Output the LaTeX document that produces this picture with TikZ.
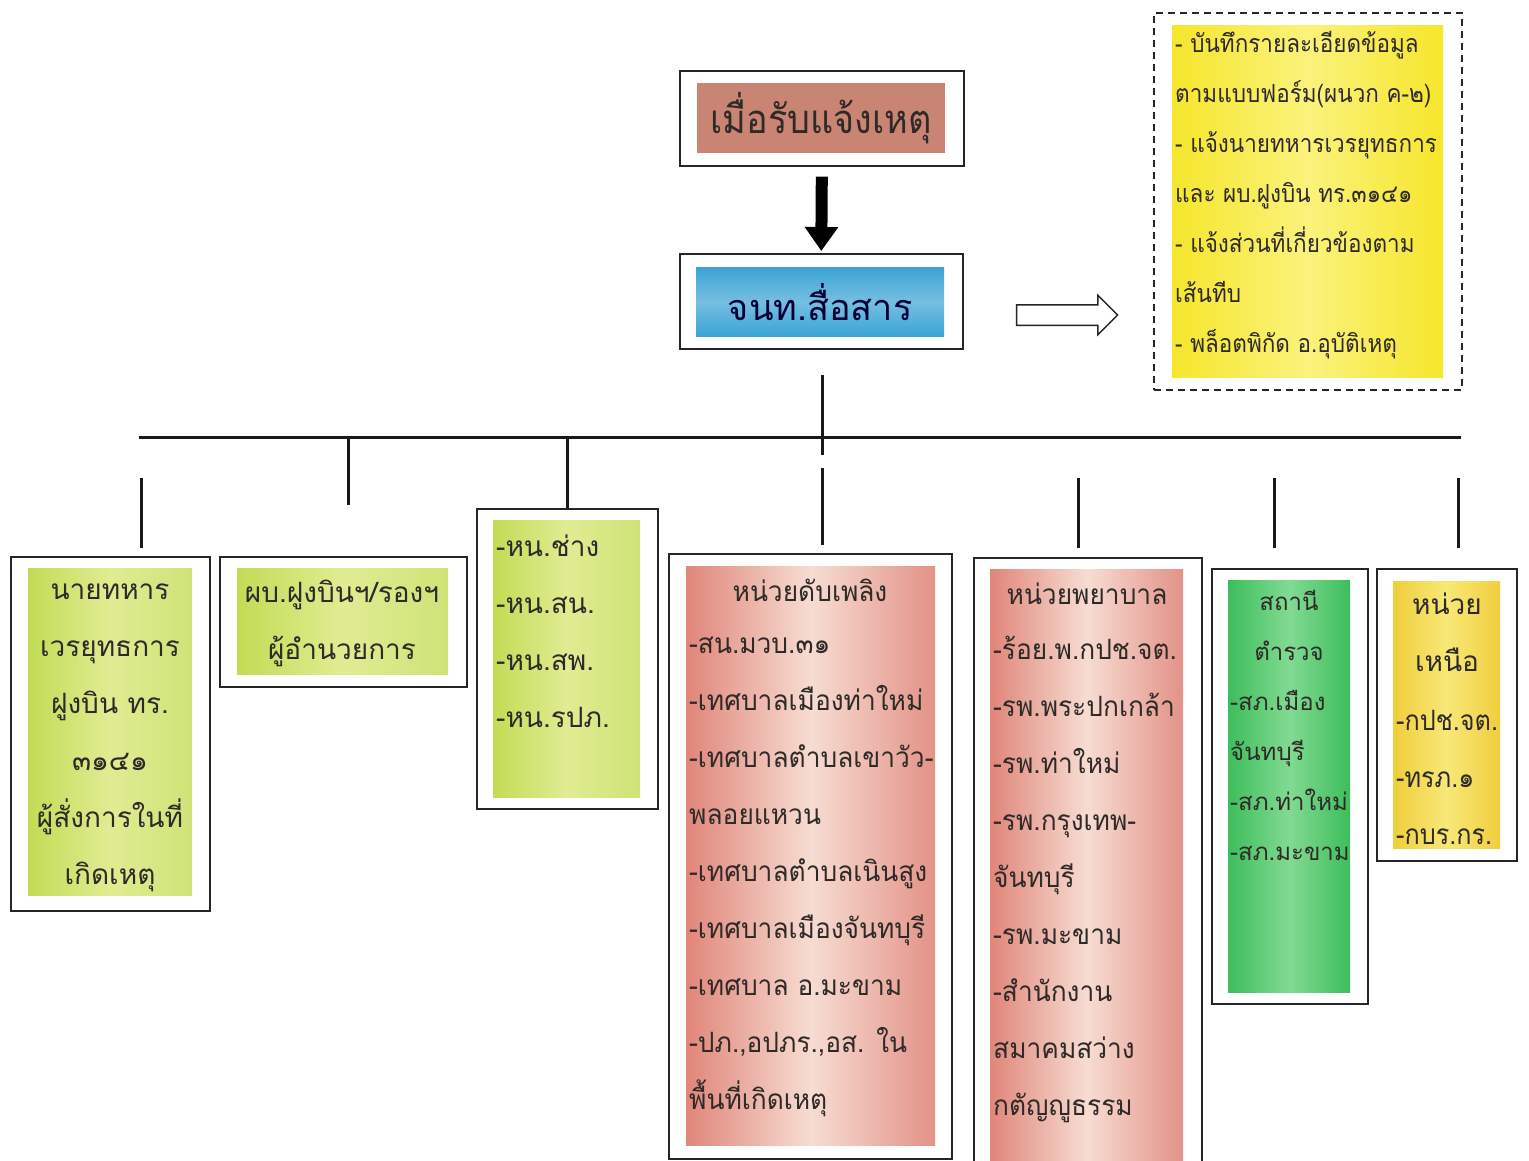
\documentclass[tikz,border=0pt]{standalone}
\usepackage{fontspec}
\newfontfamily\thai[Script=Thai]{Loma}
\newfontfamily\thaiN[Script=Thai,FakeStretch=0.9]{Loma}
\newfontfamily\thaiM[Script=Thai,FakeStretch=0.94]{Loma}
\usetikzlibrary{arrows.meta,shapes.arrows}
\definecolor{salmon}{HTML}{C98473}
\definecolor{bluebox}{HTML}{3BA3D5}
\definecolor{ygA}{HTML}{C2DC55}
\definecolor{ygB}{HTML}{E0EC92}
\definecolor{redA}{HTML}{E0867A}
\definecolor{redB}{HTML}{F7DCD2}
\definecolor{grA}{HTML}{3DBE5C}
\definecolor{grB}{HTML}{82DA92}
\definecolor{orA}{HTML}{F0CE3C}
\definecolor{orB}{HTML}{F8E878}
\definecolor{yeA}{HTML}{F6E62C}
\definecolor{yeB}{HTML}{FAF27C}
\definecolor{ink}{HTML}{2E2A28}
\tikzset{
  frame/.style={draw=black!85, line width=1.6pt, fill=white, anchor=north west, inner sep=0pt},
  fillbox/.style={anchor=north west, inner sep=0pt, draw=none},
  txt/.style={text=ink, inner sep=0pt, font=\thai\fontsize{28}{57}\selectfont},
  txtM/.style={text=ink, inner sep=0pt, font=\thaiM\fontsize{28}{57}\selectfont},
  smalltxt/.style={text=ink, inner sep=0pt, font=\thai\fontsize{24}{50}\selectfont},
  notetxt/.style={text=ink, inner sep=0pt, font=\thaiN\fontsize{25}{50}\selectfont},
  conn/.style={line width=3pt, black!90},
}
\begin{document}
\begin{tikzpicture}[x=1pt,y=-1pt]
\useasboundingbox[fill=white] (0,0) rectangle (1529,1160);

% top boxes
\node[frame, minimum width=284pt, minimum height=95pt] (t1) at (679,70) {};
\node[fillbox, minimum width=248pt, minimum height=70pt, fill=salmon] (t1f) at (697,83) {};
\node[text=ink, inner sep=0pt, font=\thaiN\fontsize{40}{50}\selectfont] (t1t) at (t1f.center) {เมื่อรับแจ้งเหตุ};

\node[frame, minimum width=283pt, minimum height=95pt] (t2) at (679,253) {};
\node[fillbox, minimum width=248pt, minimum height=69pt, top color=bluebox, bottom color=bluebox, middle color=bluebox!70!white] (t2f) at (696,267) {};
\node[text=black!80!blue, inner sep=0pt, font=\thai\fontsize{36}{50}\selectfont] (t2t) at (t2f.center) {จนท.สื่อสาร};

\draw[line width=12pt, -{Triangle[width=32pt,length=24pt]}] ([yshift=-10pt]t1.south) -- ([yshift=2pt]t2.north);

% hollow arrow
\node[single arrow, draw=black!85, line width=1.5pt, fill=white, minimum height=101pt, minimum width=38pt, single arrow head extend=9.5pt, inner sep=9.5pt] (harrow) at (1062,315) {};

% note box
\node[frame, dash pattern=on 7pt off 5pt, minimum width=308pt, minimum height=377pt] (note) at (1153,12) {};
\node[fillbox, minimum width=271pt, minimum height=352pt, left color=yeA, right color=yeA, middle color=yeB] (notef) at (1172,25) {};
\node[notetxt, align=left, anchor=west] (notet) at (1175,195) {- บันทึกรายละเอียดข้อมูล\\ตามแบบฟอร์ม(ผนวก ค-๒)\\- แจ้งนายทหารเวรยุทธการ\\และ ผบ.ฝูงบิน ทร.๓๑๔๑\\- แจ้งส่วนที่เกี่ยวข้องตาม\\เส้นทีบ\\- พล็อตพิกัด อ.อุบัติเหตุ};

% box 1
\node[frame, minimum width=199pt, minimum height=354pt] (b1) at (10,556) {};
\node[fillbox, minimum width=164pt, minimum height=327pt, left color=ygA, right color=ygA!80!white, middle color=ygB] (b1f) at (28,568) {};
\node[txt, align=center] (b1t) at (110,738) {นายทหาร\\เวรยุทธการ\\ฝูงบิน ทร.\\๓๑๔๑\\ผู้สั่งการในที่\\เกิดเหตุ};

% box 2
\node[frame, minimum width=247pt, minimum height=130pt] (b2) at (219,556) {};
\node[fillbox, minimum width=211pt, minimum height=106pt, left color=ygA, right color=ygA!80!white, middle color=ygB] (b2f) at (237,568) {};
\node[txt, align=center] (b2t) at (342,623) {ผบ.ฝูงบินฯ/รองฯ\\ผู้อำนวยการ};

% box 3
\node[frame, minimum width=181pt, minimum height=300pt] (b3) at (476,508) {};
\node[fillbox, minimum width=147pt, minimum height=277pt, left color=ygA, right color=ygA!80!white, middle color=ygB] (b3f) at (493,520) {};
\node[txt, align=left, anchor=west] (b3t) at (496,631) {-หน.ช่าง\\-หน.สน.\\-หน.สพ.\\-หน.รปภ.};

% box 4 fire
\node[frame, minimum width=283pt, minimum height=605pt] (b4) at (668,553) {};
\node[fillbox, minimum width=249pt, minimum height=579pt, left color=redA, right color=redA!90!white, middle color=redB] (b4f) at (686,566) {};
\node[txtM] (b4h) at (810,590) {หน่วยดับเพลิง};
\node[txtM, align=left, anchor=west] (b4t) at (689,877) {-สน.มวบ.๓๑\\-เทศบาลเมืองท่าใหม่\\-เทศบาลตำบลเขาวัว-\\พลอยแหวน\\-เทศบาลตำบลเนินสูง\\-เทศบาลเมืองจันทบุรี\\-เทศบาล อ.มะขาม\\-ปภ.,อปภร.,อส. ใน\\พื้นที่เกิดเหตุ};

% box 5 hospital
\node[frame, minimum width=228pt, minimum height=610pt] (b5) at (973,557) {};
\node[fillbox, minimum width=193pt, minimum height=591pt, left color=redA, right color=redA!90!white, middle color=redB] (b5f) at (990,569) {};
\node[txtM] (b5h) at (1087,594) {หน่วยพยาบาล};
\node[txtM, align=left, anchor=west] (b5t) at (993,879) {-ร้อย.พ.กปช.จต.\\-รพ.พระปกเกล้า\\-รพ.ท่าใหม่\\-รพ.กรุงเทพ-\\จันทบุรี\\-รพ.มะขาม\\-สำนักงาน\\สมาคมสว่าง\\กตัญญูธรรม};

% box 6 police
\node[frame, minimum width=156pt, minimum height=435pt] (b6) at (1211,568) {};
\node[fillbox, minimum width=122pt, minimum height=412pt, left color=grA, right color=grA, middle color=grB] (b6f) at (1228,580) {};
\node[smalltxt, align=center] (b6h) at (1289,625) {สถานี\\ตำรวจ};
\node[smalltxt, align=left, anchor=west] (b6t) at (1230,775) {-สภ.เมือง\\จันทบุรี\\-สภ.ท่าใหม่\\-สภ.มะขาม};

% box 7 north
\node[frame, minimum width=140pt, minimum height=292pt] (b7) at (1376,568) {};
\node[fillbox, minimum width=107pt, minimum height=267pt, left color=orA, right color=orA, middle color=orB] (b7f) at (1393,581) {};
\node[txt, align=center] (b7h) at (1447,632) {หน่วย\\เหนือ};
\node[txt, font=\thaiN\fontsize{28}{57}\selectfont, align=left, anchor=west] (b7t) at (1396,777) {-กปช.จต.\\-ทรภ.๑\\-กบร.กร.};

% connectors
\coordinate (busL) at (139,437);
\coordinate (busR) at (1461,437);
\draw[conn] (busL) -- (busR);
\coordinate (c0) at (822,375);
\coordinate (c1) at (822,455);
\draw[conn] (c0) -- (c1);
\coordinate (c2) at (822,468);
\coordinate (c3) at (822,545);
\draw[conn] (c2) -- (c3);
\coordinate (s2) at (348,437);
\coordinate (e2) at (348,505);
\draw[conn] (s2) -- (e2);
\coordinate (s3) at (567,437);
\draw[conn] (s3) -- (s3 |- b3.north);
\coordinate (s1) at (141,478);
\coordinate (e1) at (141,548);
\draw[conn] (s1) -- (e1);
\coordinate (s5) at (1078,478);
\coordinate (e5) at (1078,548);
\draw[conn] (s5) -- (e5);
\coordinate (s6) at (1274,478);
\coordinate (e6) at (1274,548);
\draw[conn] (s6) -- (e6);
\coordinate (s7) at (1458,478);
\coordinate (e7) at (1458,548);
\draw[conn] (s7) -- (e7);
\end{tikzpicture}
\end{document}
